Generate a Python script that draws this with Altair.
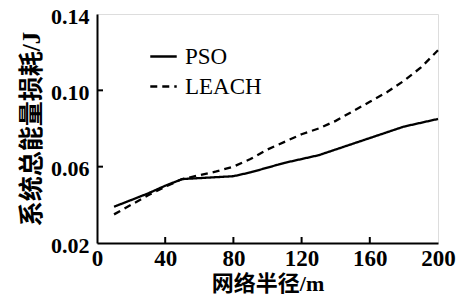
import altair as alt
import pandas as pd

radius = [10, 20, 30, 40, 50, 60, 70, 80, 90, 100, 110, 120, 130, 140, 150, 160, 170, 180, 190, 200]
pso = [0.039, 0.0425, 0.046, 0.050, 0.0535, 0.054, 0.0545, 0.055, 0.057, 0.0595, 0.062, 0.064,
       0.066, 0.069, 0.072, 0.075, 0.078, 0.081, 0.083, 0.085]
leach = [0.035, 0.040, 0.045, 0.0495, 0.0535, 0.0555, 0.0575, 0.060, 0.064, 0.069, 0.073, 0.077,
         0.080, 0.084, 0.089, 0.094, 0.099, 0.105, 0.112, 0.121]
series = ["PSO", "LEACH"]
x_ticks = [0, 40, 80, 120, 160, 200]
y_ticks = [0.02, 0.06, 0.10, 0.14]

rows = []
for r, p, l in zip(radius, pso, leach):
    rows.append({"r": r, "v": p, "s": "PSO"})
    rows.append({"r": r, "v": l, "s": "LEACH"})
df = pd.DataFrame(rows)
xt = pd.DataFrame({"r": x_ticks[1:-1]})
yt = pd.DataFrame({"v": y_ticks[1:-1]})

FONT = "Liberation Serif, Noto Sans CJK SC"
W, H = 341, 229
TICK = 6

xs = alt.Scale(domain=[0, 200], nice=False)
ys = alt.Scale(domain=[0.02, 0.14], nice=False)

lines = alt.Chart(df).mark_line(strokeWidth=2.3, color="black").encode(
    x=alt.X("r:Q", scale=xs, axis=alt.Axis(
        orient="bottom", values=x_ticks, format="d", ticks=False, grid=False,
        title="网络半径/m", labelFont=FONT, labelFontSize=23, labelFontWeight="bold",
        labelColor="black", labelPadding=4, titleFont=FONT, titleFontSize=22,
        titleFontWeight="bold", titleColor="black", titlePadding=3,
        domainColor="black", domainWidth=2, labelFlush=False)),
    y=alt.Y("v:Q", scale=ys, axis=alt.Axis(
        orient="left", values=y_ticks, format=".2f", ticks=False, grid=False,
        title="系统总能量损耗/J", labelFont=FONT, labelFontSize=22, labelFontWeight="bold",
        labelColor="black", labelPadding=8, labelOffset=2, titleFont=FONT, titleFontSize=25,
        titleFontWeight="bold", titleColor="black", titlePadding=6,
        domainColor="black", domainWidth=2, labelFlush=False)),
    strokeDash=alt.StrokeDash("s:N", scale=alt.Scale(domain=series, range=[[1, 0], [7, 5]]),
                              legend=alt.Legend(
                                  title=None, orient="none", legendX=52, legendY=28,
                                  symbolType="stroke", symbolSize=700, symbolStrokeWidth=2.3,
                                  symbolStrokeColor="black", labelFont=FONT, labelFontSize=23,
                                  labelColor="black", rowPadding=3, labelOffset=7)),
    detail="s:N",
)

xtick_marks = alt.Chart(xt).mark_rule(color="black", strokeWidth=2).encode(
    x=alt.X("r:Q", scale=xs), y=alt.value(H), y2=alt.value(H - TICK))
ytick_marks = alt.Chart(yt).mark_rule(color="black", strokeWidth=2).encode(
    y=alt.Y("v:Q", scale=ys), x=alt.value(0), x2=alt.value(TICK))

chart = alt.layer(lines, xtick_marks, ytick_marks).properties(
    width=W, height=H,
    autosize=alt.AutoSizeParams(type="none"),
    padding={"left": 89, "top": 6, "right": 19, "bottom": 54},
).configure_view(stroke="black", strokeWidth=2).configure(background="white")

chart.save("out.html", embed_options={"renderer": "svg", "actions": False})
